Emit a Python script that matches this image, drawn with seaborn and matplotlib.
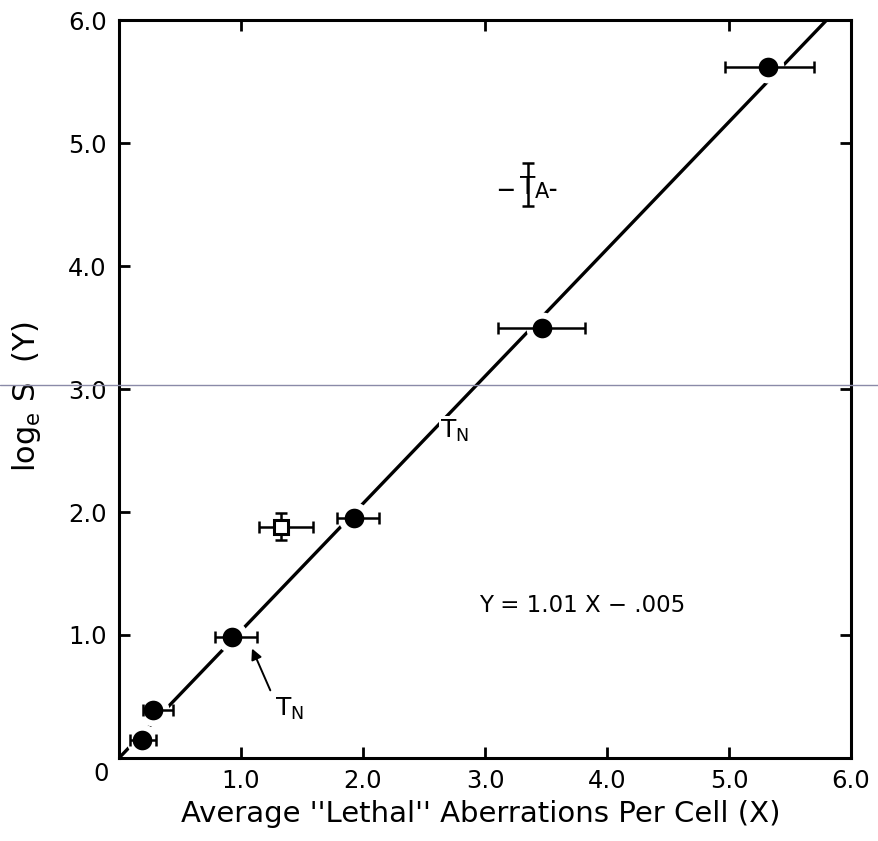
import numpy as np
import pandas as pd
import matplotlib
matplotlib.use("Agg")
import matplotlib.pyplot as plt
from matplotlib.lines import Line2D
import seaborn as sns

# ---- data ----
pt_x = [0.19, 0.28, 0.93, 1.93, 3.47, 5.32]
pt_y = [0.15, 0.39, 0.98, 1.95, 3.50, 5.62]
pt_xerr_lo = [0.10, 0.08, 0.14, 0.14, 0.36, 0.35]
pt_xerr_hi = [0.11, 0.16, 0.20, 0.20, 0.35, 0.38]

sq_x = [1.33]
sq_y = [1.88]
sq_xerr_lo = [0.18]
sq_xerr_hi = [0.26]
sq_yerr = [0.11]

ta_x = [3.35]
ta_y = [4.64]
ta_yerr_lo = [0.15]
ta_yerr_hi = [0.20]

fit_x = [0.0, 5.81]
fit_y = [0.0, 6.01]

tick_vals = [1.0, 2.0, 3.0, 4.0, 5.0, 6.0]
tick_labels = ["1.0", "2.0", "3.0", "4.0", "5.0", "6.0"]
minor_side_ticks = [1.0, 3.0, 5.0]

equation = "Y = 1.01 X \u2212 .005"
xlabel = "Average ''Lethal'' Aberrations Per Cell (X)"
ylabel = "log$_\\mathregular{e}$ S  (Y)"

# ---- styling ----
sns.set_theme(style="ticks")
plt.rcParams["font.family"] = ["DejaVu Sans"]
plt.rcParams["mathtext.default"] = "regular"
plt.rcParams["text.color"] = "black"
plt.rcParams["axes.labelcolor"] = "black"
plt.rcParams["xtick.color"] = "black"
plt.rcParams["ytick.color"] = "black"

fig = plt.figure(figsize=(8.79, 8.41), dpi=100)
ax = fig.add_axes([0.1354, 0.0987, 0.8328, 0.8775])

df_pts = pd.DataFrame({"x": pt_x, "y": pt_y})
df_fit = pd.DataFrame({"x": fit_x, "y": fit_y})

# fit line
sns.lineplot(data=df_fit, x="x", y="y", ax=ax, color="black", lw=2.4,
             solid_capstyle="butt", zorder=1)

# white halos break the line around the points
ax.plot(pt_x, pt_y, ls="none", marker="o", ms=22, mfc="white", mec="white", zorder=2)

# error bars
ax.errorbar(pt_x, pt_y, xerr=[pt_xerr_lo, pt_xerr_hi], fmt="none", ecolor="black",
            elinewidth=1.8, capsize=4.5, capthick=1.8, zorder=3)
ax.errorbar(sq_x, sq_y, xerr=[sq_xerr_lo, sq_xerr_hi], yerr=[sq_yerr, sq_yerr], fmt="none",
            ecolor="black", elinewidth=1.8, capsize=4.5, capthick=1.8, zorder=3)
ax.errorbar(ta_x, ta_y, yerr=[ta_yerr_lo, ta_yerr_hi], fmt="none", ecolor="black",
            elinewidth=1.8, capsize=4.5, capthick=1.8, zorder=3)

# markers
sns.scatterplot(data=df_pts, x="x", y="y", ax=ax, s=200, color="black",
                edgecolor="black", linewidth=0, zorder=4, legend=False)
ax.plot(sq_x, sq_y, ls="none", marker="s", ms=10.5, mfc="white", mec="black",
        mew=2.2, zorder=4)

# T_A label with dashes
ax.annotate("T", (ta_x[0], ta_y[0]), xytext=(0, 0), textcoords="offset points",
            ha="center", va="center", fontsize=18, zorder=5)
ax.annotate("A", (ta_x[0], ta_y[0]), xytext=(10.5, -3.5), textcoords="offset points",
            ha="center", va="center", fontsize=15, zorder=5)
ax.annotate("\u2014", (ta_x[0], ta_y[0]), xytext=(-16, -2), textcoords="offset points",
            ha="center", va="center", fontsize=12, fontweight="bold", zorder=5)
ax.annotate("\u2013", (ta_x[0], ta_y[0]), xytext=(18, -2), textcoords="offset points",
            ha="center", va="center", fontsize=12, fontweight="bold", zorder=5)

# T_N labels
ax.text(2.63, 2.66, "T$_N$", fontsize=18, ha="left", va="center",
        bbox=dict(boxstyle="square,pad=0.05", fc="white", ec="none"), zorder=5)
ax.annotate("", xy=(1.09, 0.89), xytext=(1.24, 0.55),
            arrowprops=dict(arrowstyle="-|>", color="black", lw=1.4,
                            mutation_scale=16, shrinkA=0, shrinkB=0), zorder=5)
ax.text(1.28, 0.40, "T$_N$", fontsize=18, ha="left", va="center", zorder=5)

# equation
ax.text(3.80, 1.24, equation, fontsize=16.5, ha="center", va="center")

# axes
ax.set_xlim(0, 6.0)
ax.set_ylim(0, 6.0)
ax.set_xticks(tick_vals)
ax.set_xticklabels(tick_labels)
ax.set_yticks(tick_vals)
ax.set_yticklabels(tick_labels)
ax.tick_params(axis="both", direction="in", length=8, width=2, labelsize=17.5,
               color="black", labelcolor="black")
ax.tick_params(axis="x", pad=8)
ax.tick_params(axis="y", pad=9)
for side in ["left", "right", "top", "bottom"]:
    ax.spines[side].set_visible(True)
    ax.spines[side].set_linewidth(2.2)
    ax.spines[side].set_color("black")

secx = ax.secondary_xaxis("top")
secx.set_xticks(minor_side_ticks)
secx.tick_params(direction="in", length=8, width=2, labeltop=False)
secx.spines["top"].set_visible(False)
secy = ax.secondary_yaxis("right")
secy.set_yticks(minor_side_ticks)
secy.tick_params(direction="in", length=8, width=2, labelright=False)
secy.spines["right"].set_visible(False)

ax.set_xlabel(xlabel, fontsize=21)
ax.set_ylabel(ylabel, fontsize=22)
ax.xaxis.set_label_coords(0.494, -0.057)
ax.yaxis.set_label_coords(-0.104, 0.49)

# shared origin label
ax.text(-0.014, -0.005, "0", transform=ax.transAxes, fontsize=17.5,
        ha="right", va="top")

# thin scan line across the figure
fig.add_artist(Line2D([0, 1], [1 - 385 / 841, 1 - 385 / 841], transform=fig.transFigure,
                      color="#8a8aa8", lw=1.0))

fig.savefig("out.png", dpi=100)
